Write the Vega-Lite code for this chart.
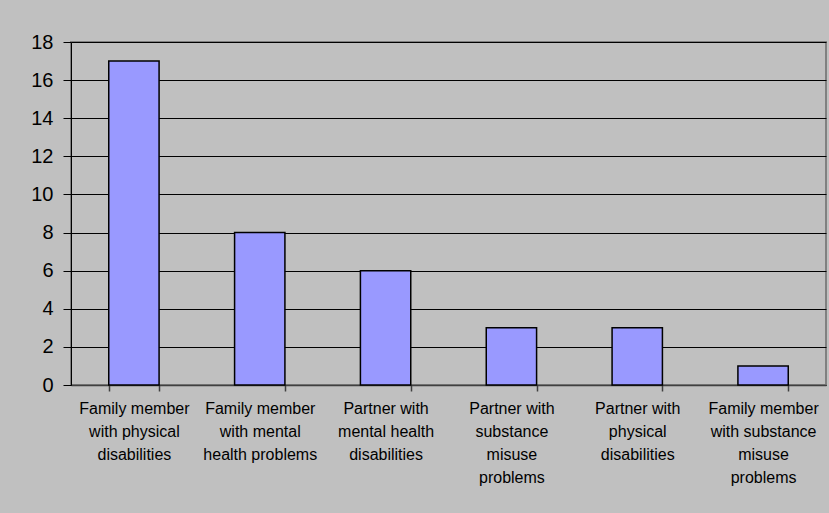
{
  "$schema": "https://vega.github.io/schema/vega-lite/v6.json",
  "autosize": {"type": "none"},
  "width": 755,
  "height": 343,
  "padding": {"left": 71, "top": 42, "right": 3, "bottom": 128},
  "background": "#C0C0C0",
  "config": {
    "view": {"stroke": "#808080", "strokeWidth": 2},
    "font": "Liberation Sans"
  },
  "data": {
    "values": [
      {"category": "Family member\nwith physical\ndisabilities", "value": 17},
      {"category": "Family member\nwith mental\nhealth problems", "value": 8},
      {"category": "Partner with\nmental health\ndisabilities", "value": 6},
      {"category": "Partner with\nsubstance\nmisuse\nproblems", "value": 3},
      {"category": "Partner with\nphysical\ndisabilities", "value": 3},
      {"category": "Family member\nwith substance\nmisuse\nproblems", "value": 1}
    ]
  },
  "mark": {"type": "bar", "color": "#9999FF", "stroke": "#000000", "strokeWidth": 1.5},
  "encoding": {
    "x": {
      "field": "category",
      "type": "nominal",
      "sort": null,
      "scale": {"paddingInner": 0.6, "paddingOuter": 0.3},
      "axis": {
        "title": null,
        "labelAngle": 0,
        "labelExpr": "datum.value ? split(datum.value, '\\n') : ''",
        "labelFontSize": 16,
        "labelLineHeight": 23,
        "labelColor": "#000000",
        "labelPadding": 9,
        "labelBaseline": "top",
        "tickBand": "extent",
        "tickSize": 6,
        "tickWidth": 1.5,
        "tickColor": "#404040",
        "domainColor": "#404040",
        "domainWidth": 1.5,
        "grid": false
      }
    },
    "y": {
      "field": "value",
      "type": "quantitative",
      "scale": {"domain": [0, 18]},
      "axis": {
        "title": null,
        "values": [0, 2, 4, 6, 8, 10, 12, 14, 16, 18],
        "labelFontSize": 20,
        "labelColor": "#000000",
        "labelPadding": 10,
        "tickSize": 8,
        "tickColor": "#000000",
        "domainColor": "#000000",
        "grid": true,
        "gridColor": "#000000",
        "gridOpacity": 1,
        "gridWidth": 1
      }
    }
  }
}
